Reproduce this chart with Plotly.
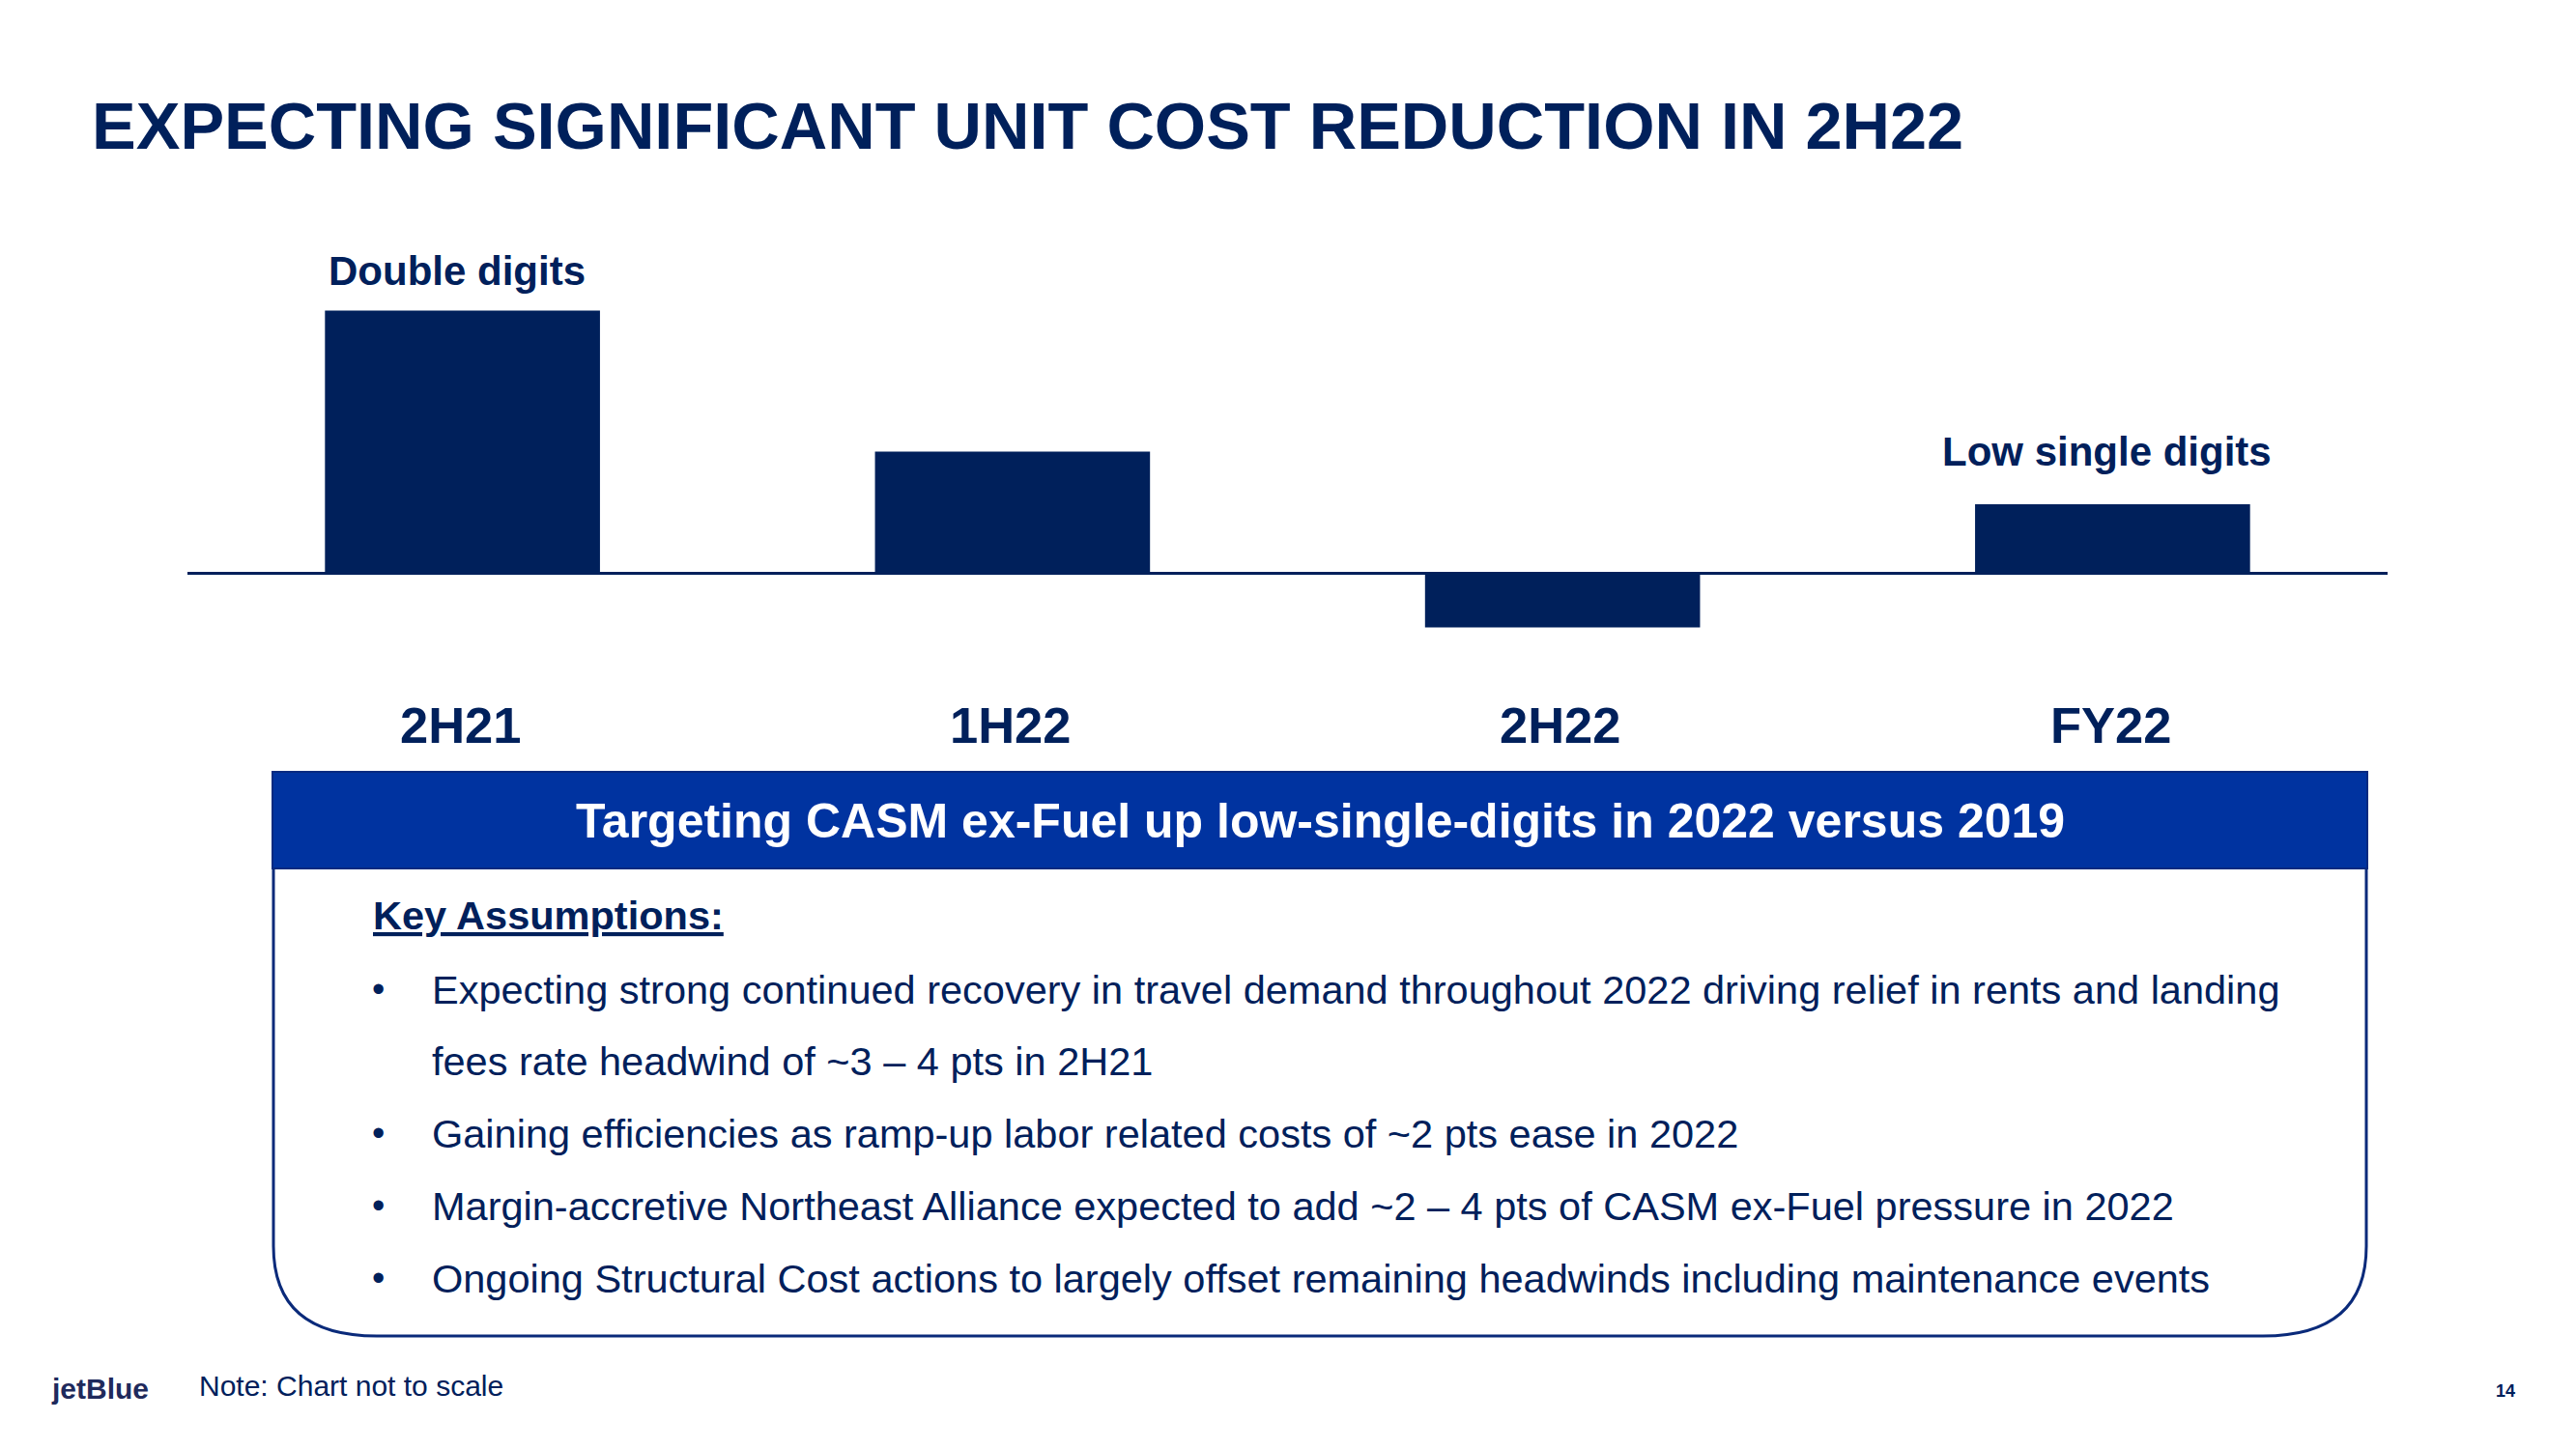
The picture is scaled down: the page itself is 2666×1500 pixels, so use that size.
import plotly.graph_objects as go

# page is 2666x1500; the html body has an 8px margin, so the figure is 16px smaller
OFF = 8
W, H = 2666 - 2 * OFF, 1500 - 2 * OFF

# ---- data ----
categories = ["2H21", "1H22", "2H22", "FY22"]
values = [16.0, 7.4, -3.3, 4.2]          # relative change (chart not to scale)
bar_labels = ["Double digits", "", "", "Low single digits"]
bar_label_gap = [41, 0, 0, 55]           # px above bar top (style)

title_text = "EXPECTING SIGNIFICANT UNIT COST REDUCTION IN 2H22"
banner_text = "Targeting CASM ex-Fuel up low-single-digits in 2022 versus 2019"
assumptions_header = "Key Assumptions:"
bullet_lines = [
    "Expecting strong continued recovery in travel demand throughout 2022 driving relief in rents and landing",
    "fees rate headwind of ~3 \u2013 4 pts in 2H21",
    "Gaining efficiencies as ramp-up labor related costs of ~2 pts ease in 2022",
    "Margin-accretive Northeast Alliance expected to add ~2 \u2013 4 pts of CASM ex-Fuel pressure in 2022",
    "Ongoing Structural Cost actions to largely offset remaining headwinds including maintenance events",
]
bullet_flags = [True, False, True, True, True]
note_text = "Note: Chart not to scale"
logo_text = "jetBlue"
page_text = "14"

# ---- style ----
NAVY = "#00205B"
BLUE = "#0033A0"
BORDER = "#0A2A7A"
FONT = "Liberation Sans, Arial, sans-serif"


def X(px):
    return (px - OFF) / W


def Y(py):
    return 1 - (py - OFF) / H


fig = go.Figure()
fig.add_trace(go.Bar(
    x=categories, y=values, width=0.5,
    marker=dict(color=NAVY, line=dict(width=0)),
    hoverinfo="skip", showlegend=False,
))

annotations = []
# title
annotations.append(dict(x=X(93), y=Y(131), xref="paper", yref="paper", xanchor="left", yanchor="middle",
                        text="<b>" + title_text + "</b>", showarrow=False,
                        font=dict(family=FONT, size=68.5, color=NAVY)))
# bar labels
for c, v, lab, gap in zip(categories, values, bar_labels, bar_label_gap):
    if lab:
        annotations.append(dict(x=c, y=v, xref="x", yref="y", xanchor="center", yanchor="middle",
                                yshift=gap, xshift=-6, text="<b>" + lab + "</b>", showarrow=False,
                                font=dict(family=FONT, size=42, color=NAVY)))
# category labels
for c in categories:
    annotations.append(dict(x=c, y=Y(750), xref="x", yref="paper", xanchor="center", yanchor="middle",
                            xshift=-2, text="<b>" + c + "</b>", showarrow=False,
                            font=dict(family=FONT, size=52.5, color=NAVY)))
# banner text
annotations.append(dict(x=X(1366), y=Y(850), xref="paper", yref="paper", xanchor="center", yanchor="middle",
                        text="<b>" + banner_text + "</b>", showarrow=False,
                        font=dict(family=FONT, size=50, color="white")))
# key assumptions header
annotations.append(dict(x=X(384), y=Y(947), xref="paper", yref="paper", xanchor="left", yanchor="middle",
                        text="<b><u>" + assumptions_header + "</u></b>", showarrow=False,
                        font=dict(family=FONT, size=41.5, color=NAVY)))
line_y = [1024, 1098, 1173, 1248, 1323]
for ly, txt, flag in zip(line_y, bullet_lines, bullet_flags):
    if flag:
        annotations.append(dict(x=X(391), y=Y(ly), xref="paper", yref="paper", xanchor="center",
                                yanchor="middle", text="\u2022", showarrow=False,
                                font=dict(family=FONT, size=38, color=NAVY)))
    annotations.append(dict(x=X(445), y=Y(ly), xref="paper", yref="paper", xanchor="left", yanchor="middle",
                            text=txt, showarrow=False,
                            font=dict(family=FONT, size=41.5, color=NAVY)))
# footer
annotations.append(dict(x=X(51), y=Y(1437), xref="paper", yref="paper", xanchor="left", yanchor="middle",
                        text="<b>" + logo_text + "</b>", showarrow=False,
                        font=dict(family=FONT, size=30, color="#1F2A5C")))
annotations.append(dict(x=X(204), y=Y(1434), xref="paper", yref="paper", xanchor="left", yanchor="middle",
                        text=note_text, showarrow=False,
                        font=dict(family=FONT, size=30, color=NAVY)))
annotations.append(dict(x=X(2593), y=Y(1440), xref="paper", yref="paper", xanchor="center", yanchor="middle",
                        text="<b>" + page_text + "</b>", showarrow=False,
                        font=dict(family=FONT, size=18, color=NAVY)))

shapes = []
# blue banner
shapes.append(dict(type="rect", xref="paper", yref="paper",
                   x0=X(282), x1=X(2450), y0=Y(899), y1=Y(799),
                   fillcolor=BLUE, line=dict(color="#062A80", width=2), layer="above"))
# assumptions box (open top, rounded bottom corners)
L, R, T, B = 283, 2449, 899, 1383
path = (f"M {X(L)},{Y(T)} L {X(L)},{Y(1290)} Q {X(L)},{Y(B)} {X(390)},{Y(B)} "
        f"L {X(2342)},{Y(B)} Q {X(R)},{Y(B)} {X(R)},{Y(1290)} L {X(R)},{Y(T)}")
shapes.append(dict(type="path", xref="paper", yref="paper", path=path,
                   line=dict(color=BORDER, width=3)))

fig.update_layout(
    width=W, height=H,
    margin=dict(l=0, r=0, t=0, b=0),
    paper_bgcolor="white", plot_bgcolor="white",
    xaxis=dict(domain=[X(194), X(2471)], range=[-0.5, 3.5], showticklabels=False,
               showgrid=False, zeroline=False, showline=False, ticks=""),
    yaxis=dict(domain=[Y(700), Y(300)], range=[-6.27, 17.26], showticklabels=False,
               showgrid=False, zeroline=True, zerolinecolor=NAVY, zerolinewidth=2.5,
               showline=False, ticks=""),
    annotations=annotations, shapes=shapes,
    bargap=0.5, showlegend=False,
)

fig.write_html("out.html")
